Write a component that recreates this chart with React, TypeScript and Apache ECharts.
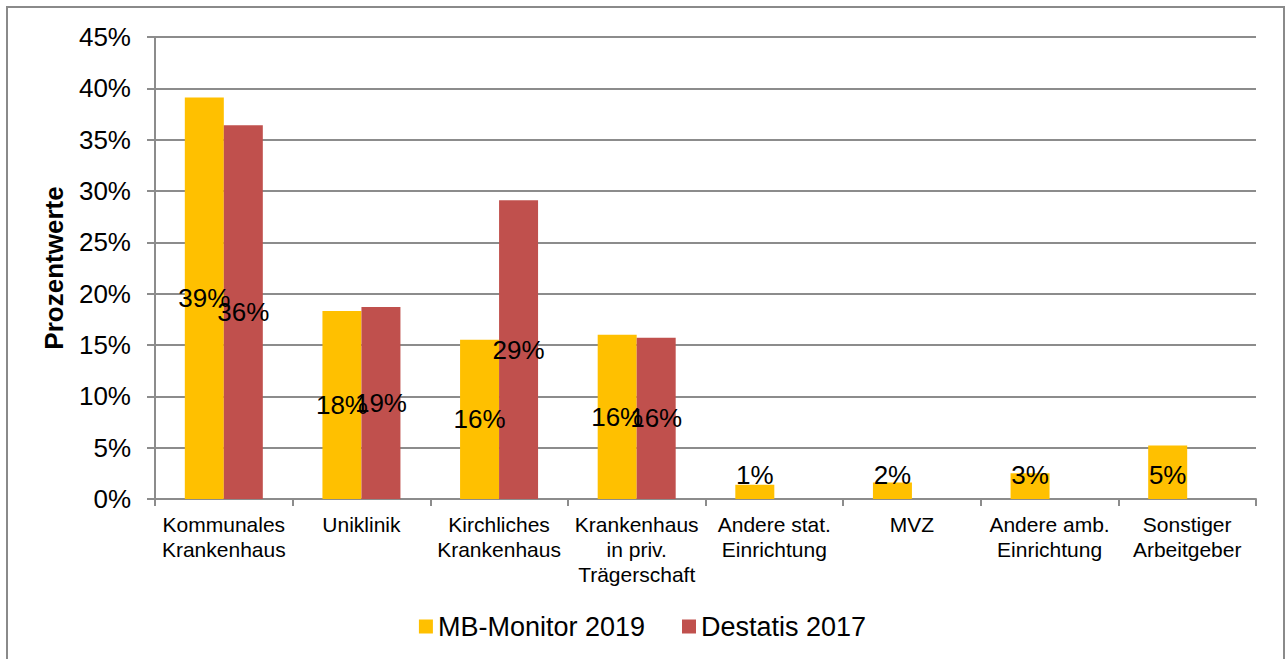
import React, { useEffect, useRef } from "react";
import * as echarts from "echarts";

const categories = [
  "Kommunales\nKrankenhaus",
  "Uniklinik",
  "Kirchliches\nKrankenhaus",
  "Krankenhaus\nin priv.\nTrägerschaft",
  "Andere stat.\nEinrichtung",
  "MVZ",
  "Andere amb.\nEinrichtung",
  "Sonstiger\nArbeitgeber",
];
const mbMonitor2019 = [39.1, 18.3, 15.5, 16.0, 1.4, 1.6, 2.5, 5.2];
const destatis2017: (number | null)[] = [36.4, 18.7, 29.1, 15.7, null, null, null, null];
const seriesNames = ["MB-Monitor 2019", "Destatis 2017"];
const colors = ["#FFC000", "#C0504D"];

const FONT = "'Liberation Sans', Arial, sans-serif";

function buildData(vals: (number | null)[]) {
  return vals.map((v) => {
    if (v === null) return null;
    if (v < 6) {
      return {
        value: v,
        label: { position: "insideBottom", distance: 11 },
      };
    }
    return { value: v };
  });
}

export default function App() {
  const ref = useRef<HTMLDivElement>(null);
  useEffect(() => {
    if (!ref.current) return;
    const chart = echarts.init(ref.current, null, { renderer: "svg" });
    const labelCfg = {
      show: true,
      position: "inside",
      color: "#000",
      fontSize: 26,
      fontFamily: FONT,
      formatter: (p: any) => Math.round(p.value) + "%",
    };
    chart.setOption({
      animation: false,
      backgroundColor: "#fff",
      textStyle: { fontFamily: FONT },
      graphic: [
        {
          type: "rect",
          shape: { x: 7, y: 7, width: 1277, height: 700 },
          style: { fill: "none", stroke: "#8a8a8a", lineWidth: 2 },
          silent: true,
        },
      ],
      grid: { left: 155, right: 29, top: 37, bottom: 160, containLabel: false },
      legend: {
        bottom: 14,
        left: "center",
        itemWidth: 14,
        itemHeight: 14,
        itemGap: 37,
        icon: "rect",
        textStyle: { fontSize: 27, color: "#000", fontFamily: FONT },
        data: seriesNames,
      },
      xAxis: {
        type: "category",
        data: categories,
        axisLine: { lineStyle: { color: "#8c8c8c", width: 2 } },
        axisTick: { show: true, length: 7, lineStyle: { color: "#8c8c8c", width: 2 } },
        axisLabel: {
          interval: 0,
          fontSize: 21,
          lineHeight: 25,
          color: "#000",
          margin: 13,
          fontFamily: FONT,
        },
      },
      yAxis: {
        type: "value",
        min: 0,
        max: 45,
        interval: 5,
        name: "Prozentwerte",
        nameLocation: "middle",
        nameGap: 88,
        nameTextStyle: { fontSize: 26, fontWeight: "bold", color: "#000", fontFamily: FONT },
        axisLine: { show: true, lineStyle: { color: "#8c8c8c", width: 2 } },
        axisTick: { show: true, length: 8, lineStyle: { color: "#8c8c8c", width: 2 } },
        axisLabel: {
          formatter: "{value}%",
          fontSize: 26,
          color: "#000",
          margin: 24,
          fontFamily: FONT,
        },
        splitLine: { lineStyle: { color: "#8c8c8c", width: 2 } },
      },
      series: [
        {
          name: seriesNames[0],
          type: "bar",
          data: buildData(mbMonitor2019),
          itemStyle: { color: colors[0] },
          barWidth: 39,
          barGap: "0%",
          label: labelCfg,
        },
        {
          name: seriesNames[1],
          type: "bar",
          data: buildData(destatis2017),
          itemStyle: { color: colors[1] },
          barWidth: 39,
          barGap: "0%",
          label: labelCfg,
        },
      ],
    });
    return () => chart.dispose();
  }, []);
  return (
    <div
      ref={ref}
      style={{ position: "fixed", left: 0, top: 0, width: 1285, height: 659, background: "#fff" }}
    />
  );
}
